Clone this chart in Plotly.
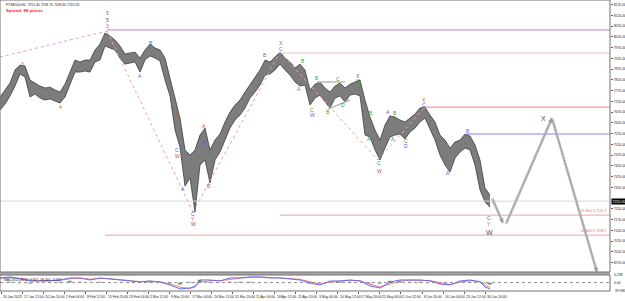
import plotly.graph_objects as go

# ---------------- data ----------------
high = [7740, 7773, 7805, 7866, 7889, 7884, 7819, 7805, 7791, 7782,
        7786, 7773, 7763, 7800, 7856, 7912, 7903, 7912, 7912, 7959,
        7986, 8038, 8024, 8005, 7977, 7940, 7945, 7949, 7921, 7959,
        7986, 7968, 7959, 7921, 7828, 7735, 7642, 7494, 7470, 7494,
        7563, 7596, 7494, 7540, 7568, 7624, 7670, 7703, 7726, 7763,
        7796, 7828, 7866, 7912, 7903, 7926, 7949, 7921, 7903, 7875,
        7893, 7866, 7773, 7800, 7810, 7782, 7763, 7791, 7805, 7782,
        7800, 7810, 7819, 7726, 7647, 7587, 7540, 7610, 7652, 7647,
        7633, 7624, 7642, 7661, 7689, 7693, 7656, 7624, 7563, 7540,
        7503, 7531, 7540, 7568, 7559, 7517, 7447, 7317, 7284]
low = [7680, 7707, 7745, 7791, 7847, 7833, 7740, 7754, 7735, 7726,
       7731, 7721, 7712, 7740, 7796, 7856, 7856, 7861, 7856, 7903,
       7912, 7977, 7968, 7959, 7921, 7893, 7898, 7903, 7856, 7912,
       7931, 7921, 7907, 7819, 7745, 7587, 7507, 7326, 7363, 7205,
       7424, 7447, 7340, 7447, 7484, 7540, 7596, 7633, 7656, 7689,
       7735, 7763, 7796, 7842, 7847, 7866, 7893, 7866, 7842, 7810,
       7791, 7796, 7703, 7735, 7749, 7717, 7689, 7735, 7745, 7717,
       7749, 7754, 7745, 7563, 7554, 7494, 7447, 7503, 7554, 7563,
       7568, 7545, 7577, 7596, 7624, 7642, 7587, 7540, 7470, 7424,
       7391, 7456, 7484, 7503, 7494, 7424, 7308, 7252, 7228]
cols = list(range(len(high)))

last_price = 7255.9
price_ticks = [8170 - 50 * k for k in range(25) if 8170 - 50 * k != 7270]

ind_x = [0, 2, 4, 6, 8, 10, 12, 14, 16, 18, 20, 22, 24, 26, 28, 30, 32, 34, 36, 38, 39,
         40, 42, 44, 46, 48, 50, 52, 54, 56, 58, 60, 62, 64, 66, 68, 70, 72, 74, 76, 78,
         80, 82, 84, 86, 88, 90, 92, 94, 96, 97, 98]
ind_main = [0.55, 0.67, 0.43, 0.19, 0.19, 0.19, 0.31, 0.55, 0.55, 0.31, 0.55, 0.43, 0.31,
            0.19, 0.07, 0.19, 0.07, -0.29, -0.76, -0.64, -0.40, 0.31, 0.31, 0.19, 0.55,
            0.55, 0.67, 0.67, 0.55, 0.55, 0.43, 0.31, -0.05, -0.29, 0.19, 0.19, 0.31, 0.19,
            -0.40, -0.64, 0.07, 0.31, 0.31, 0.31, 0.19, -0.17, -0.29, 0.19, 0.31, 0.07,
            -0.52, -0.76]
ind_signal = [0.50, 0.60, 0.52, 0.32, 0.22, 0.20, 0.26, 0.45, 0.52, 0.40, 0.48, 0.46, 0.36,
              0.24, 0.12, 0.15, 0.10, -0.15, -0.55, -0.70, -0.55, 0.05, 0.25, 0.22, 0.40,
              0.52, 0.62, 0.66, 0.60, 0.56, 0.48, 0.38, 0.10, -0.18, 0.05, 0.16, 0.26, 0.22,
              -0.20, -0.52, -0.20, 0.18, 0.28, 0.30, 0.24, 0.00, -0.22, 0.05, 0.24, 0.14,
              -0.30, -0.58]
hist_x = [0, 2, 4, 6, 8, 10, 12, 14, 16, 18, 20, 22, 24, 26, 28, 30, 32, 34, 36, 38, 40,
          42, 44, 46, 48, 50, 52, 54, 56, 58, 60, 62, 64, 66, 68, 70, 72, 74, 76, 78, 80,
          82, 84, 86, 88, 90, 92, 94, 96, 97, 98]
hist_v = [0.10, 0.05, -0.10, -0.20, -0.10, -0.05, 0.05, 0.15, 0.05, -0.05, 0.10, -0.05,
          -0.10, -0.10, -0.05, 0.05, -0.05, -0.20, -0.25, 0.10, 0.30, 0.10, -0.05, 0.10,
          0.05, 0.05, 0.00, -0.05, -0.05, -0.10, -0.10, -0.15, -0.10, 0.10, 0.05, 0.05,
          -0.05, -0.20, -0.15, 0.20, 0.15, 0.05, 0.05, -0.05, -0.15, -0.10, 0.10, 0.10,
          -0.10, -0.20, -0.25]

time_labels = ["10 Jan 2023", "17 Jan 12:00", "24 Jan 20:00", "1 Feb 04:00", "8 Feb 12:00",
               "15 Feb 20:00", "23 Feb 04:00", "2 Mar 12:00", "9 Mar 20:00", "17 Mar 04:00",
               "24 Mar 12:00", "31 Mar 20:00", "11 Apr 04:00", "18 Apr 12:00", "25 Apr 20:00",
               "3 May 04:00", "10 May 12:00", "17 May 20:00", "25 May 04:00", "1 Jun 12:00",
               "8 Jun 20:00", "16 Jun 04:00", "23 Jun 12:00", "30 Jun 20:00"]
time_pos = [0.2 + 4.21 * k for k in range(len(time_labels))]

BL, RD, GR, PU, DK = "#5a5ae6", "#e04848", "#3c9c3c", "#a050c0", "#505050"
lab_text = ["3", "4", "5", "5", "3", "B", "A", "X", "C", "W", "A", "A", "B", "B",
            "C", "Y", "W", "B", "X", "C", "B", "A", "C", "W", "B", "C", "B", "D",
            "X", "C", "B", "A", "A", "B", "A", "C", "W", "C", "D", "X", "C", "A", "B",
            "C", "Y", "W", "X"]
lab_x = [4.4, 12.0, 21.4, 21.4, 21.4, 30.2, 28.0, 35.6, 35.4, 35.4, 36.6, 40.8, 40.8, 41.8,
         38.6, 38.6, 38.6, 53.0, 56.2, 56.2, 60.6, 59.8, 62.4, 62.4, 63.4, 67.6, 65.6, 68.6,
         71.6, 71.6, 74.2, 73.8, 77.6, 79.0, 78.6, 75.8, 75.8, 81.2, 81.2, 84.8, 84.8, 89.6,
         93.6, 97.8, 97.8, 97.8, 108.6]
lab_p = [7893, 7693, 8131, 8097, 8070, 7991, 7838, 7656, 7494, 7468, 7312, 7605, 7526, 7326,
         7196, 7173, 7150, 7935, 7991, 7965, 7907, 7777, 7680, 7656, 7828, 7824, 7670, 7703,
         7838, 7814, 7666, 7545, 7670, 7666, 7545, 7433, 7398, 7535, 7512, 7726, 7703, 7387,
         7582, 7177, 7152, 7108, 7642]
lab_col = [RD, RD, PU, DK, RD, BL, BL, RD, BL, RD, BL, RD, BL, RD,
           BL, RD, "#905050", PU, PU, BL, GR, GR, GR, BL, GR, GR, GR, GR,
           BL, GR, GR, GR, BL, GR, GR, GR, RD, GR, BL, RD, BL, BL, BL,
           BL, RD, DK, DK]
lab_size = [5] * 45 + [7, 7]

wave_lines = [([0, 21.4], [7926, 8047], "#d8a0d8"),
              ([21.4, 38.6], [8047, 7205], "#f0a0a0"),
              ([38.6, 56.0], [7205, 7949], "#f0a0a0"),
              ([56.0, 75.6], [7949, 7447], "#f0a0a0"),
              ([75.6, 84.8], [7447, 7689], "#f0a0a0")]
tri_lines = [([63.4, 69.0], [7810, 7810]), ([65.6, 70.0], [7684, 7726])]
levels = [(21.4, 8052, "#c878c8", 1), (56.4, 7945, "#f2d2d2", 1.5),
          (84.8, 7693, "#f08080", 1), (93.4, 7568, "#8080f0", 1),
          (0, 7256, "#d8d8d8", 1), (56.0, 7191, "#f0a0a0", 1), (21.0, 7098, "#f0a0a0", 1)]
fib_text = ["61.80(0.1) 7191.3", "61.80(0.1) 7098.2"]
fib_price = [7191, 7098]
proj_x = [98.4, 100.6, 101.2, 110.4, 119.4]
proj_p = [7270, 7154, 7150, 7642, 6926]

X_MAX = 122
FONT = "Liberation Sans"

fig = go.Figure()

fig.add_trace(go.Scatter(x=cols, y=low, mode="lines", line=dict(color="#2e2e2e", width=0.7),
                         yaxis="y", hoverinfo="skip"))
fig.add_trace(go.Scatter(x=cols, y=high, mode="lines", line=dict(color="#2e2e2e", width=0.7),
                         fill="tonexty", fillcolor="#7c7c7c", yaxis="y", hoverinfo="skip"))

for x0, p, c, w in levels:
    fig.add_trace(go.Scatter(x=[x0, X_MAX], y=[p, p], mode="lines",
                             line=dict(color=c, width=w), yaxis="y"))
for xs, ps, c in wave_lines:
    fig.add_trace(go.Scatter(x=xs, y=ps, mode="lines",
                             line=dict(color=c, width=1, dash="dot"), yaxis="y"))
for xs, ps in tri_lines:
    fig.add_trace(go.Scatter(x=xs, y=ps, mode="lines",
                             line=dict(color="#b8b8b8", width=1.5), yaxis="y"))

segs = [(0, 1), (2, 3), (3, 4)]
for a, b in segs:
    fig.add_trace(go.Scatter(x=[proj_x[a], proj_x[b]], y=[proj_p[a], proj_p[b]], mode="lines",
                             line=dict(color="#b8b8b8", width=2.6), yaxis="y"))
    fig.add_trace(go.Scatter(x=[proj_x[a], proj_x[b]], y=[proj_p[a], proj_p[b]], mode="lines",
                             line=dict(color="#f2f2f2", width=0.9), yaxis="y"))

fig.add_trace(go.Bar(x=hist_x, y=hist_v, marker_color="#3a9a3a", width=0.9, yaxis="y2"))
fig.add_trace(go.Scatter(x=[0, X_MAX], y=[0, 0], mode="lines",
                         line=dict(color="#909090", width=1, dash="dot"), yaxis="y2"))
fig.add_trace(go.Scatter(x=ind_x, y=ind_signal, mode="lines",
                         line=dict(color="#f08080", width=1), yaxis="y2"))
fig.add_trace(go.Scatter(x=ind_x, y=ind_main, mode="lines",
                         line=dict(color="#6a6af0", width=1), yaxis="y2"))

ann = []
for t, x, p, c, s in zip(lab_text, lab_x, lab_p, lab_col, lab_size):
    ann.append(dict(x=x, y=p, xref="x", yref="y", text=t, showarrow=False,
                    font=dict(color=c, size=s, family=FONT)))
for t, p in zip(fib_text, fib_price):
    ann.append(dict(x=0.997, y=p, xref="paper", yref="y", text=t, showarrow=False,
                    xanchor="right", yanchor="bottom",
                    font=dict(color="#f06060", size=3.2, family=FONT)))
for a, b in segs:
    ann.append(dict(x=proj_x[b], y=proj_p[b], ax=proj_x[a], ay=proj_p[a], xref="x", yref="y",
                    axref="x", ayref="y", text="", showarrow=True, arrowhead=2,
                    arrowsize=0.9, arrowwidth=1, arrowcolor="#9a9a9a"))
for t, x in zip(time_labels, time_pos):
    ann.append(dict(x=x, y=-0.006, xref="x", yref="paper", text=t, showarrow=False,
                    xanchor="left", yanchor="top",
                    font=dict(color="#202020", size=3.4, family=FONT)))
ann.append(dict(x=1.0, y=last_price, xref="paper", yref="y", text="7255.90", showarrow=False,
                xanchor="left", xshift=1, bgcolor="#000000", borderpad=0.5,
                font=dict(color="#ffffff", size=3.6, family=FONT)))
for t, v in zip(["0.298", "0.00", "-99.985"], [0.9, 0.0, -1.0]):
    ann.append(dict(x=1.0, y=v, xref="paper", yref="y2", text=t, showarrow=False,
                    xanchor="left", xshift=2,
                    font=dict(color="#202020", size=3.4, family=FONT)))
ann.append(dict(x=0.004, y=0.053, xref="paper", yref="paper", text="MACD(12,26,9) -2.107 -58.440 -3.097",
                showarrow=False, xanchor="left", yanchor="top",
                font=dict(color="#202020", size=3.4, family=FONT)))
ann.append(dict(x=0.006, y=0.997, xref="paper", yref="paper",
                text="FTSE100,H4  7251.40 7258.70 7249.60 7255.90", showarrow=False,
                xanchor="left", yanchor="top", font=dict(color="#202020", size=3.4, family=FONT)))
ann.append(dict(x=0.006, y=0.980, xref="paper", yref="paper", text="<b>Spread: 88 points</b>",
                showarrow=False, xanchor="left", yanchor="top",
                font=dict(color="#ff2020", size=4.4, family=FONT)))

H_PLOT = 291.0
shapes = [
    dict(type="rect", xref="paper", yref="paper", x0=0, x1=1, y0=(291 - 275) / H_PLOT,
         y1=(291 - 272) / H_PLOT, fillcolor="#a8a8a8", line=dict(width=0)),
    dict(type="rect", xref="paper", yref="paper", x0=0, x1=1, y0=(291 - 272) / H_PLOT, y1=1,
         line=dict(color="#707070", width=1)),
    dict(type="rect", xref="paper", yref="paper", x0=0, x1=1, y0=0, y1=(291 - 275) / H_PLOT,
         line=dict(color="#707070", width=1)),
]

fig.update_layout(
    width=625, height=301, margin=dict(l=0, r=15, t=0, b=10),
    paper_bgcolor="white", plot_bgcolor="white", showlegend=False,
    bargap=0, annotations=ann, shapes=shapes,
    xaxis=dict(range=[0, X_MAX], domain=[0, 1], anchor="y2", showgrid=False, zeroline=False,
               tickvals=time_pos, ticktext=[""] * len(time_pos), ticks="outside", ticklen=2,
               tickcolor="#606060", showline=False),
    yaxis=dict(domain=[(291 - 272) / H_PLOT, (291 - 1) / H_PLOT], range=[6926.5, 8186.5],
               side="right", anchor="x", showgrid=False, zeroline=False,
               tickvals=price_ticks, ticktext=["%.2f" % v for v in price_ticks],
               ticks="outside", ticklen=2, tickcolor="#606060",
               tickfont=dict(size=3.4, color="#202020", family=FONT), showline=False),
    yaxis2=dict(domain=[0, (291 - 275) / H_PLOT], range=[-1.0, 0.9], side="right", anchor="x",
                showgrid=False, zeroline=False, showticklabels=False, showline=False),
)

fig.write_html("out.html")
